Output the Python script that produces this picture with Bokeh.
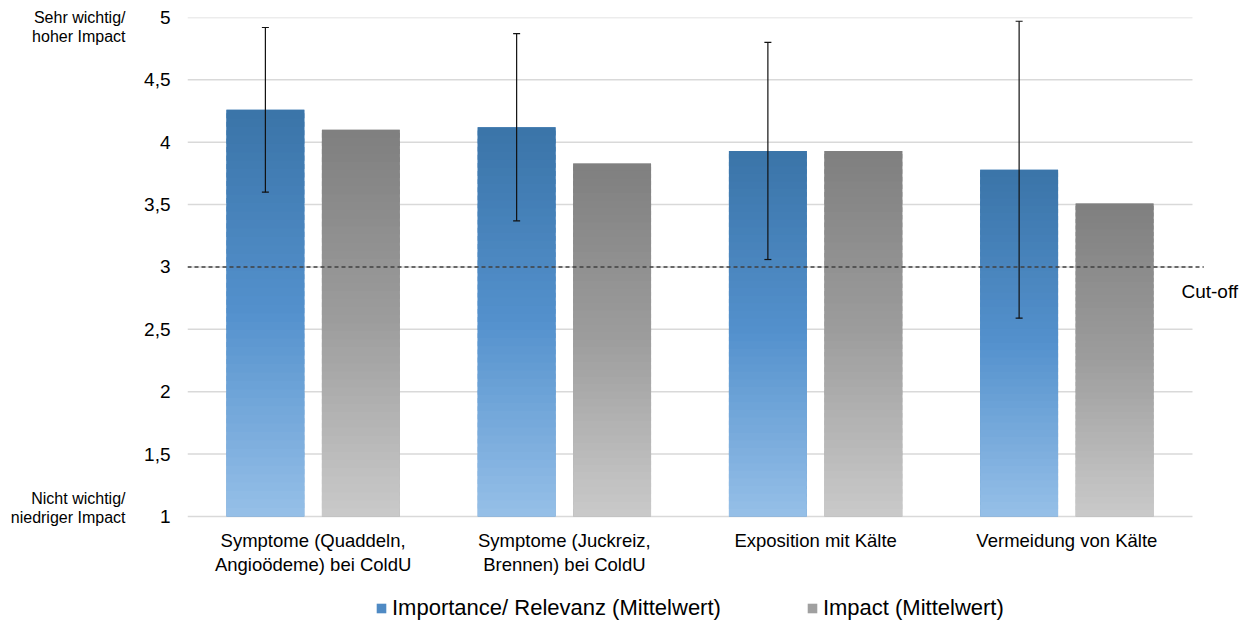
from bokeh.plotting import figure
from bokeh.models import (ColumnDataSource, Range1d, FixedTicker, LinearAxis,
                          CustomJSTickFormatter, Label, Whisker, TeeHead,
                          Legend, LegendItem)
from bokeh.core.properties import value
from bokeh.transform import dodge
from bokeh.embed import file_html
from bokeh.resources import INLINE

# ---------------- data ----------------
categories = [
    "Symptome (Quaddeln,\nAngioödeme) bei ColdU",
    "Symptome (Juckreiz,\nBrennen) bei ColdU",
    "Exposition mit Kälte",
    "Vermeidung von Kälte",
]
importance = [4.26, 4.12, 3.93, 3.78]
importance_sd = [0.66, 0.75, 0.87, 1.19]
impact = [4.10, 3.83, 3.93, 3.51]
series_names = ["Importance/ Relevanz (Mittelwert)", "Impact (Mittelwert)"]
y_ticks = [1, 1.5, 2, 2.5, 3, 3.5, 4, 4.5, 5]
y_tick_labels = ["1", "1,5", "2", "2,5", "3", "3,5", "4", "4,5", "5"]
cutoff = 3
side_labels = ["Sehr wichtig/\nhoher Impact", "Nicht wichtig/\nniedriger Impact"]
cutoff_label = "Cut-off"

# ---------------- style / layout ----------------
FONT = "Liberation Sans"
BLUE_STOPS = [(0.0, (58, 116, 168)), (0.5, (84, 145, 205)), (1.0, (150, 192, 232))]
GRAY_STOPS = [(0.0, (127, 127, 127)), (0.5, (157, 157, 157)), (1.0, (202, 202, 202))]
OFFSET = 0.19
BAR_W = 0.31
Y0 = 1.0
Y_VIEW_LO = 0.1583                             # frame extends below the axis for labels + legend
X_LO, X_HI = -0.5, len(categories) - 0.5      # category band
X_VIEW_HI = 3.711                              # frame extends right for the cut-off label
SIDE_POS = [4.924, 1.068]                      # vertical anchor of the side captions
CUTOFF_LABEL_POS = (3.456, 2.80)
DASH_END = 3.545

idx = list(range(len(categories)))


def interp(stops, f):
    for (f0, c0), (f1, c1) in zip(stops[:-1], stops[1:]):
        if f <= f1:
            t = (f - f0) / (f1 - f0) if f1 > f0 else 0
            c = tuple(int(round(a + (b - a) * t)) for a, b in zip(c0, c1))
            return "#%02x%02x%02x" % c
    return "#%02x%02x%02x" % stops[-1][1]


def slices(values, stops, n=48):
    xi, top, bottom, color = [], [], [], []
    for i, v in zip(idx, values):
        h = (v - Y0) / n
        for k in range(n):
            xi.append(i)
            bottom.append(Y0 + h * k)
            top.append(min(v, Y0 + h * (k + 1.6)))
            color.append(interp(stops, 1 - (k + 0.5) / n))
    return ColumnDataSource(dict(idx=xi, top=top, bottom=bottom, color=color))


p = figure(
    x_range=Range1d(X_LO, X_VIEW_HI),
    y_range=Range1d(Y_VIEW_LO, 5),
    frame_width=1058, frame_height=604,
    min_border_left=187, min_border_right=5,
    min_border_top=17, min_border_bottom=0,
    x_axis_location=None,
    output_backend="svg", toolbar_location=None,
)
p.outline_line_color = None
p.background_fill_color = "white"
p.xgrid.visible = False
p.ygrid.visible = False

# horizontal grid lines (the one at 1 doubles as the category axis line)
p.segment(x0=X_LO, x1=X_HI, y0=y_ticks, y1=y_ticks, line_color="#d9d9d9", line_width=1.5)

src = ColumnDataSource(dict(
    idx=idx,
    cat=categories,
    importance=importance,
    impact=impact,
    upper=[m + s for m, s in zip(importance, importance_sd)],
    lower=[m - s for m, s in zip(importance, importance_sd)],
))

# base bars (carry the data + legend)
r_imp = p.vbar(x=dodge("idx", -OFFSET), top="importance", bottom=Y0,
               width=BAR_W, source=src, fill_color="#4f8ac4", line_color=None)
r_ipc = p.vbar(x=dodge("idx", OFFSET), top="impact", bottom=Y0,
               width=BAR_W, source=src, fill_color="#a0a0a0", line_color=None)

# gradient overlay
p.vbar(x=dodge("idx", -OFFSET), top="top", bottom="bottom", width=BAR_W,
       source=slices(importance, BLUE_STOPS), fill_color="color", line_color=None)
p.vbar(x=dodge("idx", OFFSET), top="top", bottom="bottom", width=BAR_W,
       source=slices(impact, GRAY_STOPS), fill_color="color", line_color=None)

# cut-off line
p.segment(x0=X_LO, x1=DASH_END, y0=cutoff, y1=cutoff, line_color="#404040",
          line_width=1.3, line_dash="4 3")

# error bars
p.add_layout(Whisker(
    base=dodge("idx", -OFFSET), upper="upper", lower="lower", level="overlay",
    source=src, line_color="#111111", line_width=1.2,
    upper_head=TeeHead(size=7, line_color="#111111", line_width=1.2),
    lower_head=TeeHead(size=7, line_color="#111111", line_width=1.2),
))

# category labels under the axis line
p.text(x="idx", y=Y0, text="cat", source=src, y_offset=14,
       text_align="center", text_baseline="top", text_font=value(FONT),
       text_font_size="18.5px", text_color="black", text_line_height=1.12)

# y axis
p.yaxis.ticker = FixedTicker(ticks=y_ticks)
p.yaxis.formatter = CustomJSTickFormatter(
    args=dict(tvals=y_ticks, tlabels=y_tick_labels),
    code="const i = tvals.findIndex(t => Math.abs(t - tick) < 1e-9); return i >= 0 ? tlabels[i] : '';")
p.yaxis.axis_line_color = None
p.yaxis.major_tick_line_color = None
p.yaxis.major_tick_out = 0
p.yaxis.major_tick_in = 0
p.yaxis.minor_tick_line_color = None
p.yaxis.major_label_text_font = FONT
p.yaxis.major_label_text_font_size = "19px"
p.yaxis.major_label_text_color = "black"
p.yaxis.major_label_standoff = 17

# side captions as a secondary left axis
p.extra_y_ranges = {"side": Range1d(Y_VIEW_LO, 5)}
side_axis = LinearAxis(
    y_range_name="side",
    ticker=FixedTicker(ticks=SIDE_POS),
    formatter=CustomJSTickFormatter(
        args=dict(tvals=SIDE_POS, tlabels=side_labels),
        code="const i = tvals.findIndex(t => Math.abs(t - tick) < 1e-6); return i >= 0 ? tlabels[i] : '';"),
    axis_line_color=None, major_tick_line_color=None, minor_tick_line_color=None,
    major_tick_out=0, major_tick_in=0,
    major_label_text_font=FONT, major_label_text_font_size="16px",
    major_label_text_color="black", major_label_standoff=16,
    major_label_text_line_height=1.08,
)
p.add_layout(side_axis, "left")

# cut-off caption
p.add_layout(Label(x=CUTOFF_LABEL_POS[0], y=CUTOFF_LABEL_POS[1], text=cutoff_label,
                   text_align="left", text_baseline="middle", text_font=FONT,
                   text_font_size="19px", text_color="black"))

legend = Legend(
    items=[LegendItem(label=series_names[0], renderers=[r_imp]),
           LegendItem(label=series_names[1], renderers=[r_ipc])],
    orientation="horizontal", location=(188, 0),
    label_text_font=FONT, label_text_font_size="22px", label_text_color="black",
    glyph_width=12, glyph_height=12, label_standoff=5, spacing=85,
    margin=0, padding=0, border_line_color=None, background_fill_alpha=0,
    label_height=22,
)
p.add_layout(legend, "center")

open("out.html", "w").write(file_html(p, INLINE))
